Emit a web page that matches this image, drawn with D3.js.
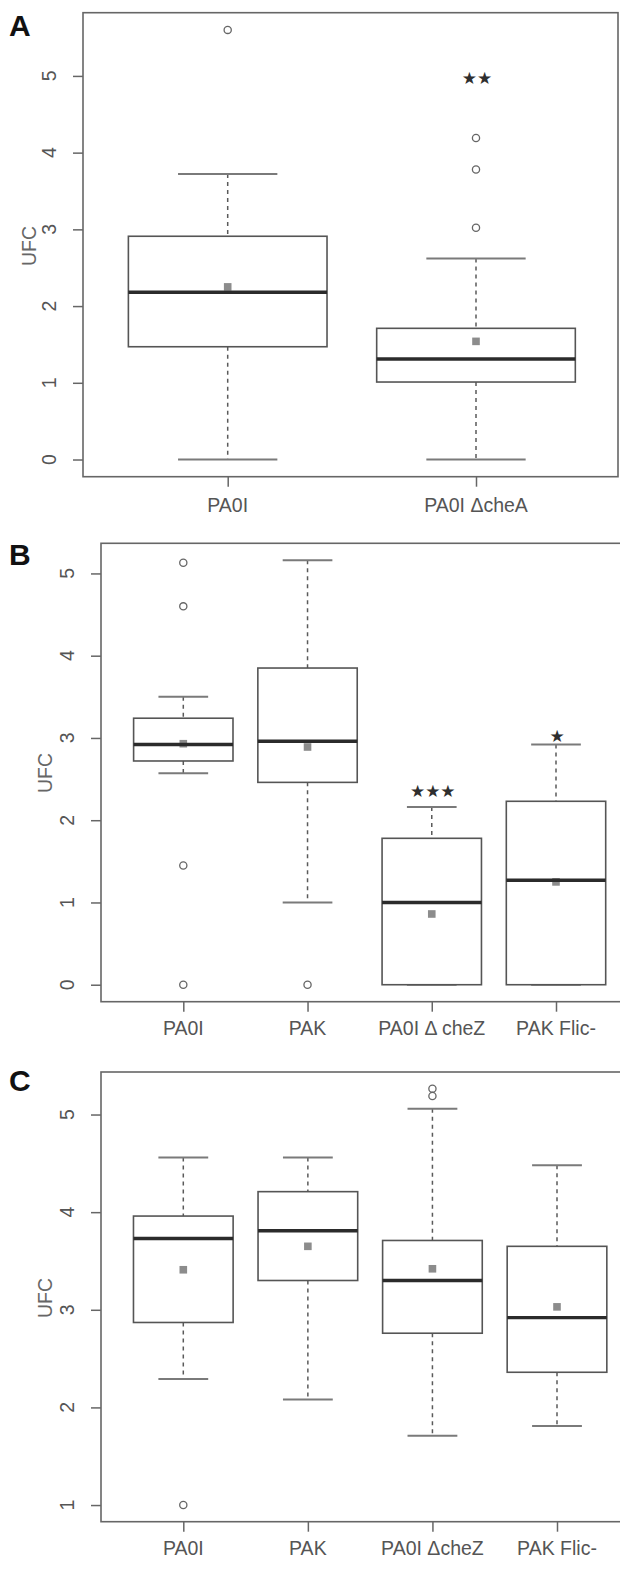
<!DOCTYPE html>
<html><head><meta charset="utf-8">
<script src="https://cdn.jsdelivr.net/npm/d3@7"></script>
<style>html,body{margin:0;padding:0;background:#fff;}svg{display:block;}</style>
</head><body>
<script>
// ---------- DATA ----------
// Panel A
const catsA   = ["PA0I", "PA0I \u0394cheA"];
const loA     = [0.00, 0.00];
const q1A     = [1.47, 1.01];
const medA    = [2.18, 1.31];
const q3A     = [2.91, 1.71];
const hiA     = [3.72, 2.62];
const meanA   = [2.25, 1.54];
const outA    = [[5.60], [4.19, 3.78, 3.02]];
const sigA    = ["", "\u2605\u2605"];
const sigYA   = [null, 4.97];
const ticksA  = [0, 1, 2, 3, 4, 5];

// Panel B
const catsB   = ["PA0I", "PAK", "PA0I \u0394 cheZ", "PAK Flic-"];
const loB     = [2.57, 1.00, 0.00, 0.00];
const q1B     = [2.72, 2.46, 0.00, 0.00];
const medB    = [2.92, 2.96, 1.00, 1.27];
const q3B     = [3.24, 3.85, 1.78, 2.23];
const hiB     = [3.50, 5.16, 2.16, 2.92];
const meanB   = [2.93, 2.89, 0.86, 1.25];
const outB    = [[5.13, 4.60, 1.45, 0.00], [0.00], [], []];
const sigB    = ["", "", "\u2605\u2605\u2605", "\u2605"];
const sigYB   = [null, null, 2.355, 3.02];
const ticksB  = [0, 1, 2, 3, 4, 5];

// Panel C
const catsC   = ["PA0I", "PAK", "PA0I \u0394cheZ", "PAK Flic-"];
const loC     = [2.29, 2.08, 1.71, 1.81];
const q1C     = [2.87, 3.30, 2.76, 2.36];
const medC    = [3.73, 3.81, 3.30, 2.92];
const q3C     = [3.96, 4.21, 3.71, 3.65];
const hiC     = [4.56, 4.56, 5.06, 4.48];
const meanC   = [3.41, 3.65, 3.42, 3.03];
const outC    = [[1.00], [], [5.265, 5.19], []];
const sigC    = ["", "", "", ""];
const sigYC   = [null, null, null, null];
const ticksC  = [1, 2, 3, 4, 5];

const yTitle = "UFC";

// ---------- LAYOUT ----------
const W = 620, H = 1581;
const svg = d3.select("body").append("svg").attr("width", W).attr("height", H)
  .style("font-family", "'Liberation Sans', Arial, sans-serif");

const panels = [
  {letter:"A", cats:catsA, lo:loA, q1:q1A, med:medA, q3:q3A, hi:hiA, mean:meanA, out:outA, sig:sigA, sigY:sigYA, ticks:ticksA,
   left:83, right:618, top:12.7, bottom:476.7, x0:227.7, x1:476,
   letterBase:35.5, tickLabX:55.5, titleX:35.5, titleY:246, xLabBase:512.3},
  {letter:"B", cats:catsB, lo:loB, q1:q1B, med:medB, q3:q3B, hi:hiB, mean:meanB, out:outB, sig:sigB, sigY:sigYB, ticks:ticksB,
   left:101, right:623, top:543.3, bottom:1001.7, x0:183.3, x1:556,
   letterBase:565, tickLabX:73.5, titleX:51.7, titleY:773, xLabBase:1035},
  {letter:"C", cats:catsC, lo:loC, q1:q1C, med:medC, q3:q3C, hi:hiC, mean:meanC, out:outC, sig:sigC, sigY:sigYC, ticks:ticksC,
   left:101, right:623, top:1072, bottom:1521.7, x0:183.3, x1:557,
   letterBase:1091, tickLabX:73.5, titleX:52.3, titleY:1298, xLabBase:1555}
];

const FRAME = "#666", BOXC = "#555", MED = "#2b2b2b", CAP = "#7a7a7a", WHISK = "#5a5a5a", MEAN = "#8c8c8c", TXT = "#555";

panels.forEach(p => {
  const g = svg.append("g");
  // R-style y range: data range extended by 4%
  const allVals = [].concat(p.lo, p.hi, ...p.out);
  const mn = d3.min(allVals), mx = d3.max(allVals), pad = (mx - mn) * 0.04;
  const y = d3.scaleLinear().domain([mn - pad, mx + pad]).range([p.bottom, p.top]);
  const x = d3.scalePoint().domain(p.cats).range([p.x0, p.x1]);
  const step = x.step();
  const bw = step * 0.8, cw = bw * 0.5;

  // panel letter
  g.append("text").attr("x", 9).attr("y", p.letterBase).text(p.letter)
    .attr("font-size", 30).attr("font-weight", "bold").attr("fill", "#111");

  // y axis
  const yAxis = d3.axisLeft(y).tickValues(p.ticks).tickSize(10).tickFormat(d3.format("d"));
  const ya = g.append("g").attr("transform", `translate(${p.left},0)`).call(yAxis);
  ya.select(".domain").remove();
  ya.selectAll(".tick line").attr("stroke", FRAME).attr("stroke-width", 1.5);
  ya.selectAll(".tick text").remove();
  p.ticks.forEach(t => {
    g.append("text").attr("transform", `translate(${p.tickLabX},${y(t)}) rotate(-90)`)
      .attr("text-anchor", "middle").attr("font-size", 19.5).attr("fill", TXT).text(t);
  });
  g.append("text").attr("transform", `translate(${p.titleX},${p.titleY}) rotate(-90)`)
    .attr("text-anchor", "middle").attr("font-size", 19.5).attr("fill", "#666").text(yTitle);

  // x axis
  const xAxis = d3.axisBottom(x).tickSize(10).tickFormat("");
  const xa = g.append("g").attr("transform", `translate(0,${p.bottom})`).call(xAxis);
  xa.select(".domain").remove();
  xa.selectAll(".tick line").attr("stroke", FRAME).attr("stroke-width", 1.5);
  p.cats.forEach(c => {
    g.append("text").attr("x", x(c)).attr("y", p.xLabBase).attr("text-anchor", "middle")
      .attr("font-size", 19.5).attr("fill", TXT).text(c);
  });

  // frame
  g.append("rect").attr("x", p.left).attr("y", p.top).attr("width", p.right - p.left).attr("height", p.bottom - p.top)
    .attr("fill", "none").attr("stroke", FRAME).attr("stroke-width", 1.6);

  p.cats.forEach((c, i) => {
    const cx = x(c);
    // whiskers
    g.append("line").attr("x1", cx).attr("x2", cx).attr("y1", y(p.hi[i])).attr("y2", y(p.q3[i]))
      .attr("stroke", WHISK).attr("stroke-width", 1.5).attr("stroke-dasharray", "4,4");
    g.append("line").attr("x1", cx).attr("x2", cx).attr("y1", y(p.q1[i])).attr("y2", y(p.lo[i]))
      .attr("stroke", WHISK).attr("stroke-width", 1.5).attr("stroke-dasharray", "4,4");
    // caps
    [p.hi[i], p.lo[i]].forEach(v => {
      g.append("line").attr("x1", cx - cw / 2).attr("x2", cx + cw / 2).attr("y1", y(v)).attr("y2", y(v))
        .attr("stroke", CAP).attr("stroke-width", 2);
    });
    // box
    g.append("rect").attr("x", cx - bw / 2).attr("y", y(p.q3[i])).attr("width", bw)
      .attr("height", y(p.q1[i]) - y(p.q3[i])).attr("fill", "#fff").attr("stroke", BOXC).attr("stroke-width", 1.6);
    // mean
    g.append("rect").attr("x", cx - 3.8).attr("y", y(p.mean[i]) - 3.8).attr("width", 7.6).attr("height", 7.6)
      .attr("fill", MEAN);
    // median
    g.append("line").attr("x1", cx - bw / 2).attr("x2", cx + bw / 2).attr("y1", y(p.med[i])).attr("y2", y(p.med[i]))
      .attr("stroke", MED).attr("stroke-width", 3.4);
    // outliers
    p.out[i].forEach(v => {
      g.append("circle").attr("cx", cx).attr("cy", y(v)).attr("r", 3.6)
        .attr("fill", "none").attr("stroke", "#666").attr("stroke-width", 1.3);
    });
    // significance
    if (p.sig[i]) {
      g.append("text").attr("x", cx + 1).attr("y", y(p.sigY[i])).attr("text-anchor", "middle")
        .attr("dominant-baseline", "central")
        .style("font-family", "'DejaVu Sans', sans-serif")
        .attr("font-size", 17).attr("fill", "#2e2e2e").text(p.sig[i]);
    }
  });
});
</script>
</body></html>
